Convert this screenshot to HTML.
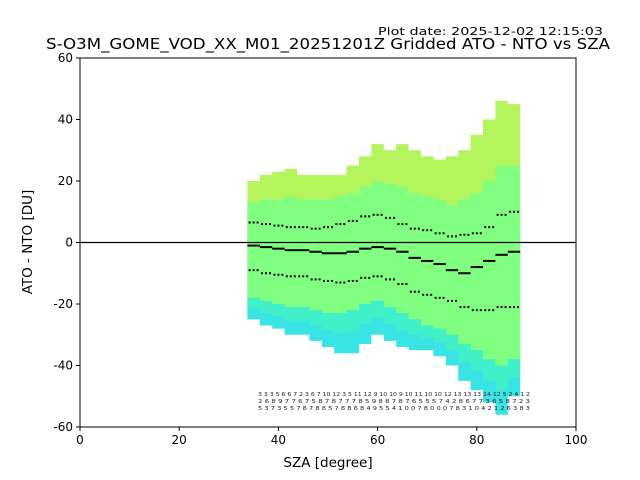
<!DOCTYPE html>
<html><head><meta charset="utf-8"><style>
body{margin:0;background:#fff;}
svg{display:block;font-family:"DejaVu Sans","Liberation Sans",sans-serif;}
</style></head><body>
<svg id="chart" width="640" height="480" viewBox="0 0 640 480">
<rect width="640" height="480" fill="#fff"/>
<text x="378" y="35" font-size="11" textLength="225" lengthAdjust="spacingAndGlyphs">Plot date: 2025-12-02 12:15:03</text>
<text x="46" y="49" font-size="15.5" textLength="564" lengthAdjust="spacingAndGlyphs">S-O3M_GOME_VOD_XX_M01_20251201Z Gridded ATO - NTO vs SZA</text>
<g id="plot"></g>
<text x="328" y="467" font-size="13.5" text-anchor="middle">SZA [degree]</text>
<text transform="translate(32,242) rotate(-90)" font-size="13.5" text-anchor="middle">ATO - NTO [DU]</text>
</svg>
<script>
const sza=[35,37.5,40,42.5,45,47.5,50,52.5,55,57.5,60,62.5,65,67.5,70,72.5,75,77.5,80,82.5,85,87.5];
const maxV=[20,22,23,24,22,22,22,22,25,28,32,30,32,30,28,27,28,30,35,40,46,45];
const p90=[13,14,14,15,14,14,14,15,16,18,20,19,18,16,15,14,12,14,16,20,25,25];
const p75=[6.5,6,5.5,5,5,4.5,5,6,7,8.5,9,8,6,4.5,4,3,2,2.5,3,5,9,10];
const median=[-1,-1.5,-2,-2.5,-2.5,-3,-3.5,-3.5,-3,-2,-1.5,-2,-3,-5,-6,-7,-9,-10,-8,-6,-4,-3];
const p25=[-9,-10,-10.5,-11,-11,-12,-12.5,-13,-12.5,-11.5,-11,-12,-13.5,-16,-17,-18,-19,-21,-22,-22,-21,-21];
const p10=[-18,-19,-20,-21,-21,-22,-23,-23,-22,-20,-19,-21,-23,-25,-27,-28,-30,-33,-35,-38,-40,-38];
const minV=[-25,-27,-28,-30,-30,-32,-34,-36,-36,-33,-30,-32,-34,-35,-35,-37,-40,-45,-48,-52,-56,-50];
const xTicks=[0,20,40,60,80,100];
const yTicks=[-60,-40,-20,0,20,40,60];
const countRows=["3 3 3 5 6 6 7 2 3 6 7 10 12 3 5 11 12 9 10 10 9 10 11 10 10 12 13 13 13 14 12 5 2 4 1 2",
"2 6 8 9 7 7 6 7 5 8 7 8 7 7 7 8 5 9 8 8 7 8 7 6 5 5 5 7 4 2 8 6 7 7 3 6 5 8 7 2 3",
"5 3 7 3 5 5 7 8 7 8 8 5 7 8 8 6 8 4 9 5 5 4 1 0 0 7 8 0 0 0 7 8 3 1 0 4 2 1 2 6 3 8 3"];
const X0=80,X1=576,Y0=427,Y1=58;
const xs=v=>X0+(v-0)/(100-0)*(X1-X0);
const ys=v=>Y0-(v+60)/120*(Y0-Y1);
const NS="http://www.w3.org/2000/svg";
const g=document.getElementById('plot');
function mk(t,a,p){const e=document.createElementNS(NS,t);for(const k in a)e.setAttribute(k,a[k]);(p||g).appendChild(e);return e;}
function band(up,lo,fill,name){
  const top=[],bot=[];
  sza.forEach((s,i)=>{
    top.push(xs(s-1.25)+','+ys(up[i]));top.push(xs(s+1.25)+','+ys(up[i]));
    bot.push(xs(s-1.25)+','+ys(lo[i]));bot.push(xs(s+1.25)+','+ys(lo[i]));
  });
  const e=mk('polygon',{points:top.concat(bot.reverse()).join(' '),fill:fill});
  
  
}
band(maxV,p75,'#b4f45c','band-upper-outer');
band(p75,minV,'#38e4e4','band-lower-outer');
band(p90,p10,'#80ff80','band-core');
band(p10,minV.map((v,i)=>(v+p10[i])/2),'#40f0c8','band-lower-mid');
const z=mk('line',{x1:X0,x2:X1,y1:ys(0),y2:ys(0),stroke:'#000','stroke-width':1.3});


sza.forEach((s,i)=>{
  const e=mk('line',{x1:xs(s-1.25),x2:xs(s+1.25),y1:ys(median[i]),y2:ys(median[i]),stroke:'#000','stroke-width':2});
  
  
});
[[p75,'p75-dot'],[p25,'p25-dot']].forEach(([arr,nm])=>{
  sza.forEach((s,i)=>{
    for(let k=-1;k<=1;k++){
      const e=mk('rect',{x:xs(s+k*0.8)-1,y:ys(arr[i])-1,width:2,height:2,fill:'#000'});
      
      
    }
  });
});
countRows.forEach((r,i)=>{
  const t=mk('text',{x:258,y:396+i*7,'font-size':5.5,fill:'#222',textLength:272,lengthAdjust:'spacingAndGlyphs'});
  t.textContent=r;
  
  
});
mk('rect',{x:X0,y:Y1,width:X1-X0,height:Y0-Y1,fill:'none',stroke:'#000','stroke-width':1});
xTicks.forEach(v=>{
  mk('line',{x1:xs(v),x2:xs(v),y1:Y0,y2:Y0+4,stroke:'#000'});
  const t=mk('text',{x:xs(v),y:Y0+17,'font-size':12,'text-anchor':'middle'});t.textContent=v;
  
  
});
yTicks.forEach(v=>{
  mk('line',{x1:X0-4,x2:X0,y1:ys(v),y2:ys(v),stroke:'#000'});
  const t=mk('text',{x:X0-7,y:ys(v)+4,'font-size':12,'text-anchor':'end'});t.textContent=v;
  
  
});
</script>
</body></html>
